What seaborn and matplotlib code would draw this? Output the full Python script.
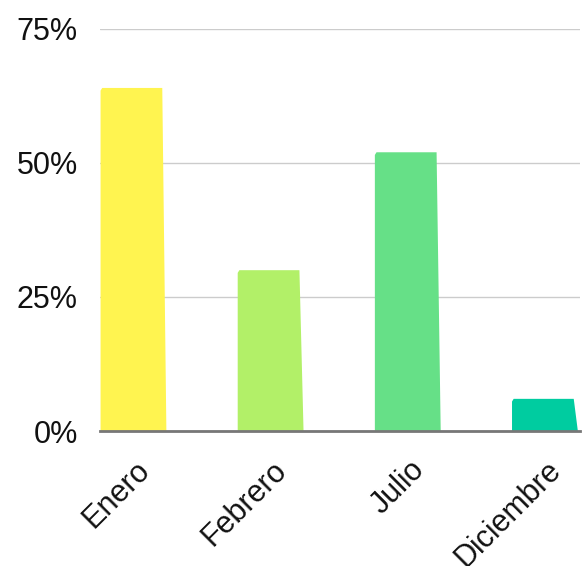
import matplotlib
matplotlib.use("Agg")
import matplotlib.pyplot as plt
import matplotlib.transforms as mtransforms
from matplotlib.patches import Polygon
import seaborn as sns
import pandas as pd

months = ["Enero", "Febrero", "Julio", "Diciembre"]
shares = [64, 30, 52, 6]
colors = ["#FFF450", "#B2F068", "#66E087", "#00CCA0"]
y_ticks = [0, 25, 50, 75]
y_tick_labels = ["0%", "25%", "50%", "75%"]

df = pd.DataFrame({"mes": months, "valor": shares})

sns.set_theme(style="white")
plt.rcParams["font.family"] = ["Liberation Sans", "DejaVu Sans"]

fig = plt.figure(figsize=(5.84, 5.66), dpi=100)
ax = fig.add_axes([0.171, 0.2385, 0.822, 0.7103])

sns.barplot(data=df, x="mes", y="valor", hue="mes", palette=colors,
            width=0.45, legend=False, ax=ax, saturation=1)

# give each bar a slightly flared right foot and a small chamfer on the top-left corner
for bar in list(ax.patches):
    x0, w, h = bar.get_x(), bar.get_width(), bar.get_height()
    fc = bar.get_facecolor()
    cham_x, cham_y = 0.012, 0.5
    pts = [(x0, 0), (x0 + w + 0.03, 0), (x0 + w, h),
           (x0 + cham_x, h), (x0, h - cham_y)]
    ax.add_patch(Polygon(pts, closed=True, facecolor=fc, edgecolor="none", zorder=bar.get_zorder()))
    bar.remove()

ax.set_ylim(0, 75)
ax.set_xlim(-0.23, 3.27)
ax.set_yticks(y_ticks)
ax.set_yticklabels(y_tick_labels, fontsize=22, color="#111111")
ax.grid(axis="y", color="#cccccc", linewidth=1)
ax.set_axisbelow(True)
ax.set_xlabel("")
ax.set_ylabel("")
for side in ["left", "right", "top"]:
    ax.spines[side].set_visible(False)
ax.spines["bottom"].set_color("#777777")
ax.spines["bottom"].set_linewidth(2)
ax.spines["bottom"].set_zorder(5)
ax.tick_params(axis="y", length=0, pad=16)
ax.tick_params(axis="x", length=0, pad=25)

shift = mtransforms.ScaledTranslation(10 / 72, 0, fig.dpi_scale_trans)
for lbl in ax.get_xticklabels():
    lbl.set_rotation(45)
    lbl.set_ha("right")
    lbl.set_va("center")
    lbl.set_rotation_mode("anchor")
    lbl.set_fontsize(22)
    lbl.set_color("#111111")
    lbl.set_transform(lbl.get_transform() + shift)

fig.savefig("out.png", dpi=100)
